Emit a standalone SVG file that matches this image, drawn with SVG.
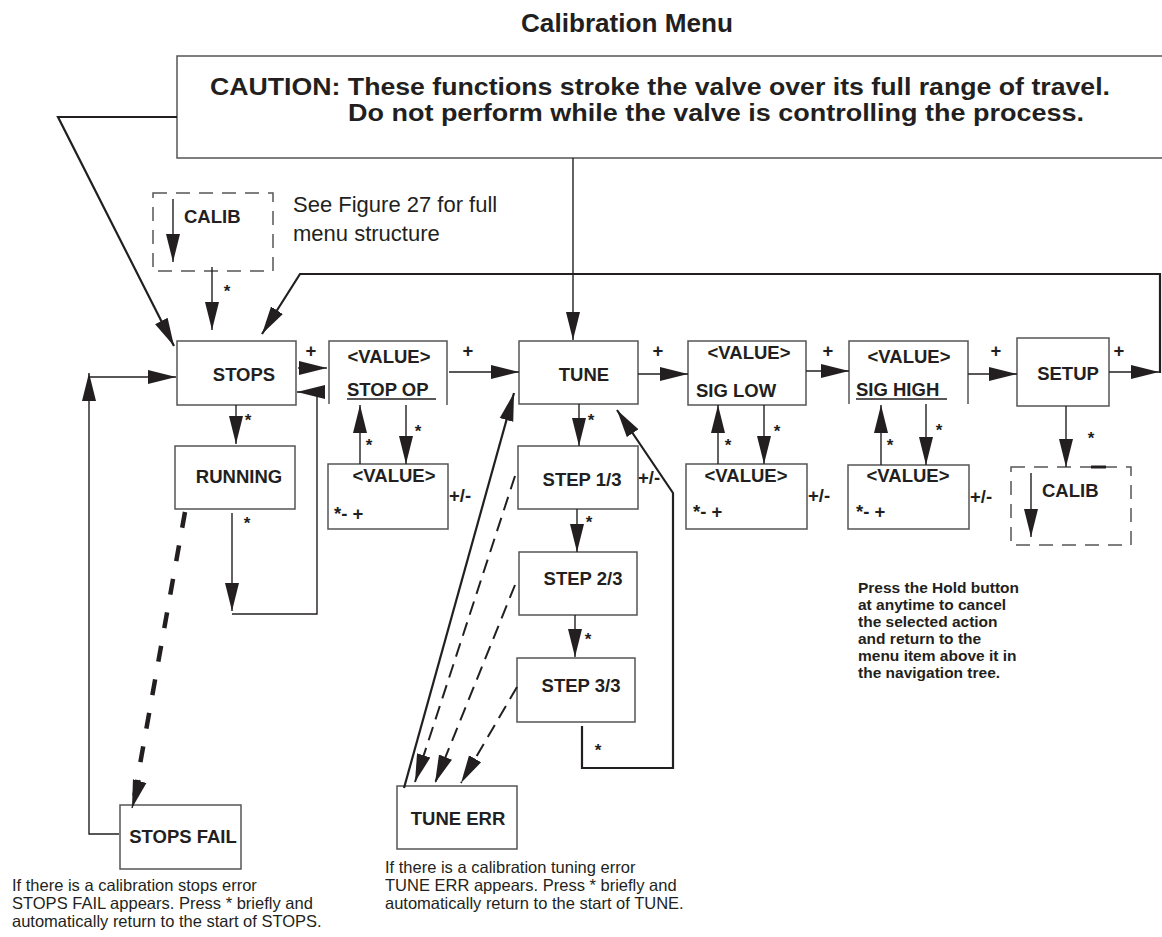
<svg xmlns="http://www.w3.org/2000/svg" width="1162" height="937" viewBox="0 0 1162 937">
<defs>
<marker id="ah" markerUnits="userSpaceOnUse" markerWidth="28" markerHeight="16" refX="28" refY="8" orient="auto">
<path d="M0,1 L28,8 L0,15 z" fill="#231f20"/>
</marker>
<style>
text{font-family:"Liberation Sans",Arial,Helvetica,sans-serif;fill:#231f20}
.b{font-weight:bold}
.n{font-size:18.5px;font-weight:bold}
.m{text-anchor:middle}
.box{fill:#fff;stroke:#555;stroke-width:1.5}
.open{fill:none;stroke:#555;stroke-width:1.5}
.dbox{fill:none;stroke:#555;stroke-width:1.5;stroke-dasharray:14 9}
.c{fill:none;stroke:#231f20;stroke-width:1.4}
.ca{fill:none;stroke:#231f20;stroke-width:1.4;marker-end:url(#ah)}
.t{stroke-width:2.2}
.dt{fill:none;stroke:#231f20;stroke-width:2;stroke-dasharray:14 8}
.dk{fill:none;stroke:#231f20;stroke-width:4.5;stroke-dasharray:16 18}
.s{font-size:17px;font-weight:bold}
.p{font-size:18.5px;font-weight:bold;text-anchor:middle}
.note{font-size:16.5px}
.hold{font-size:15.5px;font-weight:bold}
</style>
</defs>
<rect width="1162" height="937" fill="#fff"/>

<g id="title">
<text x="521" y="32" class="b" font-size="25" textLength="212" lengthAdjust="spacingAndGlyphs">Calibration Menu</text>
</g>

<g id="caution">
<path class="open" d="M1163,56 H177 V158 H1163"/>
<text x="210" y="95" class="b" font-size="23" textLength="900" lengthAdjust="spacingAndGlyphs">CAUTION: These functions stroke the valve over its full range of travel.</text>
<text x="348" y="121" class="b" font-size="23" textLength="736" lengthAdjust="spacingAndGlyphs">Do not perform while the valve is controlling the process.</text>
</g>

<g id="calib-top">
<rect class="dbox" x="153" y="193" width="120" height="78"/>
<path class="ca" d="M173,199 V262"/>
<text x="184" y="223" class="n">CALIB</text>
</g>

<g id="see-figure">
<text x="293" y="212" font-size="22">See Figure 27 for full</text>
<text x="293" y="241" font-size="22">menu structure</text>
</g>

<g id="stops">
<rect class="box" x="177" y="341" width="119" height="64"/>
<text x="244" y="381" class="n m">STOPS</text>
</g>

<g id="stop-op">
<path class="open" d="M329,404 V341 H447 V405"/>
<text x="389" y="363" class="n m">&lt;VALUE&gt;</text>
<text x="347" y="396" class="n">STOP OP</text>
<line x1="347" y1="399" x2="436" y2="399" stroke="#231f20" stroke-width="1.6"/>
</g>

<g id="stop-op-value">
<rect class="box" x="328" y="464" width="120" height="65"/>
<text x="394" y="482" class="n m">&lt;VALUE&gt;</text>
<text x="334" y="520" class="n">*- +</text>
</g>

<g id="running">
<rect class="box" x="175" y="446" width="120" height="63"/>
<text x="239" y="483" class="n m">RUNNING</text>
</g>

<g id="tune">
<rect class="box" x="519" y="341" width="119" height="63"/>
<text x="584" y="381" class="n m">TUNE</text>
</g>

<g id="step1">
<rect class="box" x="518" y="446" width="120" height="63"/>
<text x="582" y="486" class="n m">STEP 1/3</text>
</g>

<g id="step2">
<rect class="box" x="519" y="552" width="118" height="63"/>
<text x="583" y="585" class="n m">STEP 2/3</text>
</g>

<g id="step3">
<rect class="box" x="517" y="658" width="118" height="64"/>
<text x="581" y="692" class="n m">STEP 3/3</text>
</g>

<g id="sig-low">
<rect class="box" x="688" y="341" width="118" height="64"/>
<text x="749" y="359" class="n m">&lt;VALUE&gt;</text>
<text x="696" y="397" class="n">SIG LOW</text>
</g>

<g id="sig-low-value">
<rect class="box" x="686" y="464" width="121" height="65"/>
<text x="746" y="482" class="n m">&lt;VALUE&gt;</text>
<text x="693" y="518" class="n">*- +</text>
</g>

<g id="sig-high">
<path class="open" d="M849,404 V341 H968 V404"/>
<text x="909" y="363" class="n m">&lt;VALUE&gt;</text>
<text x="856" y="396" class="n">SIG HIGH</text>
<line x1="856" y1="399" x2="947" y2="399" stroke="#231f20" stroke-width="1.6"/>
</g>

<g id="sig-high-value">
<rect class="box" x="848" y="465" width="121" height="64"/>
<text x="908" y="482" class="n m">&lt;VALUE&gt;</text>
<text x="856" y="518" class="n">*- +</text>
</g>

<g id="setup">
<rect class="box" x="1017" y="338" width="92" height="68"/>
<text x="1068" y="380" class="n m">SETUP</text>
</g>

<g id="calib-right">
<rect class="dbox" x="1011" y="467" width="120" height="78"/>
<line x1="1091" y1="467" x2="1106" y2="467" stroke="#231f20" stroke-width="3"/>
<path class="ca" d="M1031,473 V537"/>
<text x="1042" y="497" class="n">CALIB</text>
</g>

<g id="stops-fail">
<rect class="box" x="120" y="805" width="121" height="64"/>
<text x="183" y="843" class="n m">STOPS FAIL</text>
</g>

<g id="tune-err">
<rect class="box" x="397" y="786" width="120" height="63"/>
<text x="458" y="825" class="n m">TUNE ERR</text>
</g>

<g id="hold-note">
<text class="hold" x="858" y="593">Press the Hold button</text>
<text class="hold" x="858" y="610">at anytime to cancel</text>
<text class="hold" x="858" y="627">the selected action</text>
<text class="hold" x="858" y="644">and return to the</text>
<text class="hold" x="858" y="661">menu item above it in</text>
<text class="hold" x="858" y="678">the navigation tree.</text>
</g>

<g id="stops-note">
<text class="note" x="12" y="891">If there is a calibration stops error</text>
<text class="note" x="12" y="909">STOPS FAIL appears. Press * briefly and</text>
<text class="note" x="12" y="927">automatically return to the start of STOPS.</text>
</g>

<g id="tune-note">
<text class="note" x="385" y="873">If there is a calibration tuning error</text>
<text class="note" x="385" y="891">TUNE ERR appears. Press * briefly and</text>
<text class="note" x="385" y="909">automatically return to the start of TUNE.</text>
</g>

<g id="connectors">
<path class="ca t" d="M177,117 H58 L174,346"/>
<path class="ca" d="M212,267 V330"/>
<path class="ca t" d="M1160,373 V274 H300 L262,334"/>
<path class="ca" d="M573,158 V340"/>
<path class="ca" d="M298,368 H327"/>
<path class="ca" d="M236,405 V444"/>
<path class="ca" d="M232,513 V611"/>
<path class="ca" d="M232,614 H317 V392 H297"/>
<path class="ca" d="M449,372 H519"/>
<path class="ca" d="M360,464 V405"/>
<path class="ca" d="M406,405 V464"/>
<path class="ca" d="M638,374 H688"/>
<path class="ca" d="M806,371 H849"/>
<path class="ca" d="M718,464 V405"/>
<path class="ca" d="M764,405 V464"/>
<path class="ca" d="M968,374 H1017"/>
<path class="ca" d="M881,465 V405"/>
<path class="ca" d="M926,404 V465"/>
<path class="ca" d="M1109,372 H1159"/>
<path class="ca" d="M1066,406 V467"/>
<path class="ca" d="M579,404 V446"/>
<path class="ca" d="M577,509 V552"/>
<path class="ca" d="M575,615 V657"/>
<path class="ca t" d="M582,726 V768 H673 V493 L617,410"/>
<path class="ca t" d="M404,788 L514,393"/>
<path class="dt" d="M515,476 L415,782" marker-end="url(#ah)"/>
<path class="dt" d="M515,585 L435,783" marker-end="url(#ah)"/>
<path class="dt" d="M517,687 L461,783" marker-end="url(#ah)"/>
<path class="dk" d="M185,512 L134,798"/>
<path class="ca" d="M140,780 L132,808"/>
<path class="ca" d="M119,834 H89 V373"/>
<path class="ca" d="M89,377 H176"/>

<text x="227" y="297" class="s m">*</text>
<text x="248" y="426" class="s m">*</text>
<text x="247" y="529" class="s m">*</text>
<text x="369" y="451" class="s m">*</text>
<text x="418" y="437" class="s m">*</text>
<text x="591" y="426" class="s m">*</text>
<text x="589" y="528" class="s m">*</text>
<text x="588" y="645" class="s m">*</text>
<text x="598" y="756" class="s m">*</text>
<text x="728" y="451" class="s m">*</text>
<text x="777" y="437" class="s m">*</text>
<text x="890" y="451" class="s m">*</text>
<text x="939" y="436" class="s m">*</text>
<text x="1091" y="444" class="s m">*</text>

<text x="311" y="357" class="p">+</text>
<text x="468" y="357" class="p">+</text>
<text x="658" y="357" class="p">+</text>
<text x="828" y="357" class="p">+</text>
<text x="996" y="357" class="p">+</text>
<text x="1119" y="357" class="p">+</text>

<text x="449" y="502" class="n">+/-</text>
<text x="808" y="502" class="n">+/-</text>
<text x="970" y="503" class="n">+/-</text>
<text x="638" y="484" class="n">+/-</text>
</g>
</svg>
